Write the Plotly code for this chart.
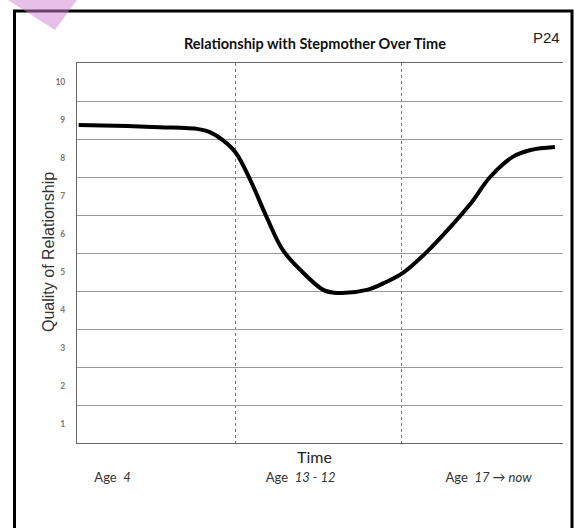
import plotly.graph_objects as go

# ---- data ----
time_x = [0.01, 0.31, 0.51, 0.75, 0.82, 0.90, 0.98, 1.07, 1.17, 1.27, 1.38, 1.52, 1.60,
          1.79, 1.91, 2.01, 2.16, 2.30, 2.43, 2.55, 2.69, 2.80, 2.95]
quality = [8.87, 8.84, 8.81, 8.76, 8.68, 8.47, 8.14, 7.42, 6.45, 5.58, 5.05, 4.53, 4.45,
           4.53, 4.74, 4.97, 5.53, 6.16, 6.8, 7.5, 8.03, 8.21, 8.29]
y_ticks = [1, 2, 3, 4, 5, 6, 7, 8, 9, 10]
age_pos = [0.22, 1.38, 2.54]
age_labels = ["Age  <i>4</i>", "Age  <i>13 - 12</i>", "Age  <i>17 → now</i>"]
period_breaks = [0.98, 2.0]

W, H = 576, 528
L, R, T, B = 77, 13, 63, 85
pw, ph = W - L - R, H - T - B


def px(x):
    return (x - L) / pw


def py(y):
    return (H - B - y) / ph


def note(text, x, y, **kw):
    return dict(text=text, xref="paper", yref="paper", x=px(x), y=py(y),
                xanchor="center", yanchor="middle", showarrow=False, **kw)


fig = go.Figure()
fig.add_trace(go.Scatter(
    x=time_x, y=quality, mode="lines",
    line=dict(color="black", width=4, shape="spline", smoothing=1.0),
    hoverinfo="skip", showlegend=False,
))

fig.update_layout(
    width=W, height=H,
    margin=dict(l=L, r=R, t=T, b=B),
    paper_bgcolor="white", plot_bgcolor="white",
    font=dict(family="Lato, Liberation Sans, sans-serif", color="#222"),
    xaxis=dict(
        range=[0, 3], tickvals=age_pos, ticktext=age_labels,
        showgrid=False, zeroline=False, ticks="",
        showline=True, linecolor="#666", linewidth=1, mirror=True,
        tickfont=dict(size=13, color="#333"), ticklabelstandoff=22,
        minor=dict(tickvals=period_breaks, showgrid=True, gridcolor="#777",
                   griddash="dot", gridwidth=1),
        fixedrange=True,
    ),
    yaxis=dict(
        range=[0.5, 10.5], tickvals=y_ticks,
        ticktext=[f"<b>{v}</b>" for v in y_ticks],
        showgrid=False, zeroline=False, ticks="",
        showline=True, linecolor="#666", linewidth=1,
        tickfont=dict(size=8.5, color="#777", family="Lato"),
        ticklabelstandoff=9,
        minor=dict(tick0=0.5, dtick=1, showgrid=True, gridcolor="#999", gridwidth=1),
        fixedrange=True,
    ),
    shapes=[
        dict(type="rect", xref="paper", yref="paper",
             x0=px(14.5), x1=px(572), y0=py(560), y1=py(11),
             line=dict(color="black", width=3), fillcolor="rgba(0,0,0,0)"),
        dict(type="path", xref="paper", yref="paper",
             path=f"M {px(8)},{py(0)} L {px(77)},{py(0)} L {px(55)},{py(30)} Z",
             fillcolor="rgba(205,130,205,0.5)", line=dict(width=0), layer="above"),
    ],
    annotations=[
        note("<b>Relationship with Stepmother Over Time</b>", 315, 43,
             font=dict(size=14.5, color="#111")),
        note("P24", 546, 37, font=dict(size=15, color="#222", family="Liberation Sans")),
        note("Time", 314, 457, font=dict(size=16, color="#222")),
        note("Quality of Relationship", 48, 252, textangle=-90,
             font=dict(size=16, color="#333", family="Liberation Sans")),
    ],
)

fig.write_html("out.html", config={"displayModeBar": False},
               post_script="document.body.style.margin='0';")
